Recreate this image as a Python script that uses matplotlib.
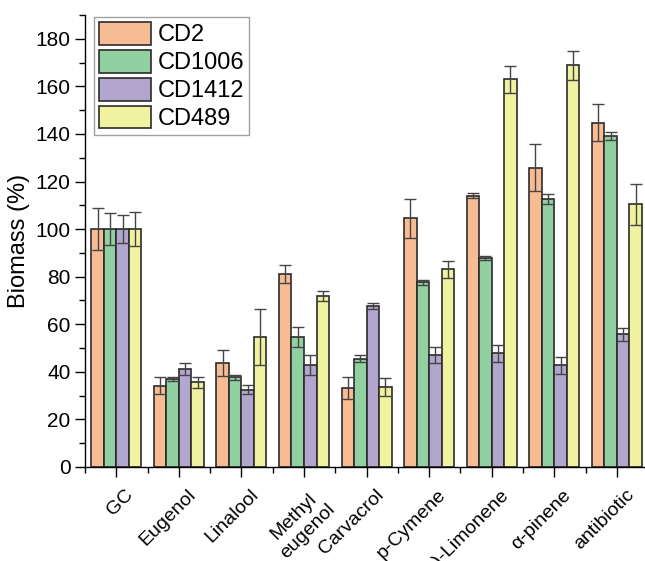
import numpy as np
import matplotlib
matplotlib.use("Agg")
import matplotlib.pyplot as plt
import matplotlib.transforms as mtransforms

plt.rcParams['font.family'] = ['Liberation Sans', 'DejaVu Sans']

# Biomass relative to the growth control, mean and error per strain
categories = ['GC', 'Eugenol', 'Linalool', 'Methyl\neugenol', 'Carvacrol',
              'p-Cymene', '(+)-Limonene', 'α-pinene', 'antibiotic']
strains = ['CD2', 'CD1006', 'CD1412', 'CD489']

cd2 = [100, 34.2, 43.6, 81.1, 33.2, 104.5, 114.0, 125.8, 144.8]
cd2_err = [9.0, 3.7, 5.4, 3.7, 4.6, 8.1, 1.0, 9.8, 7.6]
cd1006 = [100, 37.0, 37.7, 54.7, 45.5, 77.6, 87.8, 112.5, 139.1]
cd1006_err = [6.7, 1.0, 1.0, 4.3, 1.4, 1.0, 1.0, 2.1, 1.5]
cd1412 = [100, 41.0, 32.5, 42.7, 67.6, 47.2, 47.8, 42.7, 55.8]
cd1412_err = [6.0, 2.5, 2.0, 4.2, 1.4, 3.3, 3.5, 3.6, 2.7]
cd489 = [100, 35.6, 54.7, 71.7, 33.6, 83.1, 162.9, 168.8, 110.4]
cd489_err = [7.0, 2.3, 11.7, 2.1, 3.9, 3.5, 5.7, 6.0, 8.5]

values = [cd2, cd1006, cd1412, cd489]
errors = [cd2_err, cd1006_err, cd1412_err, cd489_err]
colors = ['#F8BC94', '#91D0A0', '#B3A6CE', '#F0F2A0']

fig = plt.figure(figsize=(6.45, 5.61), dpi=100)
ax = fig.add_axes([0.1318, 0.1676, 0.873, 0.8057])

x = np.arange(len(categories))
width = 0.2
for i, (vals, errs) in enumerate(zip(values, errors)):
    pos = x + (i - 1.5) * width
    ax.bar(pos, vals, width, color=colors[i], edgecolor='#2b2b2b',
           linewidth=1.2, label=strains[i], zorder=2)
    ax.errorbar(pos, vals, yerr=errs, fmt='none', ecolor='#444444',
                elinewidth=1.0, capsize=4, capthick=1.0, zorder=3)

ax.set_xlim(-0.5, len(categories) - 0.5)
ax.set_ylim(0, 190)
ax.set_yticks(np.arange(0, 181, 20))
ax.set_yticks(np.arange(0, 191, 10), minor=True)
ax.set_xticks(x)
ax.set_xticks(np.arange(-0.5, len(categories), 1.0), minor=True)
ax.set_xticklabels(categories, rotation=45, ha='right', va='top',
                   rotation_mode='anchor', ma='center', fontsize=14)
ax.tick_params(axis='y', labelsize=15)
ax.tick_params(which='major', direction='out', length=7, width=1.0)
ax.tick_params(which='minor', direction='out', length=4, width=1.0)
ax.tick_params(axis='x', which='major', pad=6)

# nudge the slanted category labels to the right
shift = mtransforms.ScaledTranslation(6 / 72, -1 / 72, fig.dpi_scale_trans)
for lbl in ax.get_xticklabels():
    lbl.set_transform(lbl.get_transform() + shift)

for side in ['top', 'right']:
    ax.spines[side].set_visible(False)
for side in ['left', 'bottom']:
    ax.spines[side].set_linewidth(1.0)

ax.set_ylabel('Biomass (%)', fontsize=17, labelpad=4)

leg = ax.legend(loc='upper left', bbox_to_anchor=(0.012, 1.0), fontsize=17,
                handlelength=2.2, handleheight=1.1, handletextpad=0.3,
                labelspacing=0.15, borderpad=0.2, borderaxespad=0.1,
                fancybox=False, framealpha=1.0, edgecolor='#a0a0a0')
leg.get_frame().set_linewidth(1.0)

fig.savefig('out.png', dpi=100)
